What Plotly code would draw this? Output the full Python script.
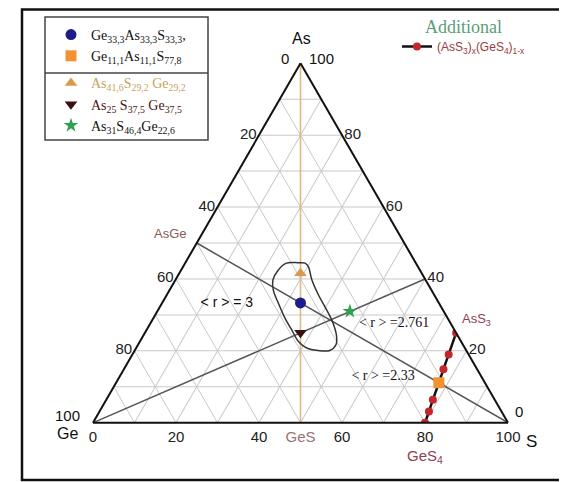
import plotly.graph_objects as go

# ---------------- data (percent) : a = As (top), b = Ge (bottom-left), c = S (bottom-right)
pt_names = [
    "Ge<sub>33,3</sub>As<sub>33,3</sub>S<sub>33,3</sub>,",
    "Ge<sub>11,1</sub>As<sub>11,1</sub>S<sub>77,8</sub>",
    "<span style='color:#c9a15c'>As<sub>41,6</sub>S<sub>29,2</sub> Ge<sub>29,2</sub></span>",
    "<span style='color:#4a1414'>As<sub>25</sub> S<sub>37,5</sub> Ge<sub>37,5</sub></span>",
    "As<sub>31</sub>S<sub>46,4</sub>Ge<sub>22,6</sub>",
]
pt_as = [33.3, 11.1, 41.6, 25.0, 31.0]
pt_ge = [33.3, 11.1, 29.2, 37.5, 22.6]
pt_s = [33.3, 77.8, 29.2, 37.5, 46.4]
pt_symbols = ["circle", "square", "triangle-up", "triangle-down", "star"]
pt_colors = ["#1c1c8c", "#f39231", "#d99a4e", "#3a0f0f", "#2ea04f"]
pt_groups = ["g1", "g1", "g2", "g2", "g2"]

# tie lines
asge_s_as, asge_s_ge, asge_s_s = [50, 0], [50, 0], [0, 100]        # AsGe -> S
ge_as2s3_as, ge_as2s3_ge, ge_as2s3_s = [0, 40], [100, 0], [0, 60]  # Ge -> As2S3
as_ges_as, as_ges_ge, as_ges_s = [100, 0], [0, 50], [0, 50]        # As -> GeS

# hand-drawn region
loop_as = [44.5, 44.4, 42.5, 39.7, 36.9, 33.3, 29.1, 25.8, 22.6, 20.8, 20.1,
           20.1, 21.7, 24.0, 27.7, 31.4, 35.6, 39.7, 43.4, 44.4, 44.5]
loop_ge = [28.3, 31.2, 34.1, 36.8, 38.1, 38.7, 39.2, 39.2, 39.2, 38.1, 35.7,
           32.9, 30.6, 29.3, 28.3, 28.0, 27.9, 27.4, 26.4, 26.7, 28.3]
loop_s = [27.2, 24.4, 23.4, 23.5, 25.0, 28.0, 31.7, 35.0, 38.2, 41.1, 44.2,
          47.0, 47.7, 46.7, 44.0, 40.6, 36.5, 32.9, 30.2, 28.9, 27.2]

# (AsS3)x(GeS4)1-x series
add_as = [0.0, 3.1, 6.4, 11.1, 14.9, 19.0, 25.0]
add_ge = [20.0, 17.5, 14.9, 11.1, 8.1, 4.8, 0.0]
add_s = [80.0, 79.4, 78.7, 77.8, 77.0, 76.2, 75.0]

# <r> labels
r_texts = ["&lt; r &gt; = 3", "&lt; r &gt; =2.761", "&lt; r &gt; =2.33"]
r_as = [33.3, 27.5, 12.8]
r_ge = [51.1, 13.7, 23.7]
r_s = [15.6, 58.8, 63.5]
r_fonts = ["Liberation Sans", "Liberation Serif", "Liberation Serif"]

# ticks (every 10 for the grid, labels every 20)
tick_vals = [0, 10, 20, 30, 40, 50, 60, 70, 80, 90, 100]
a_ticktext = ["", "", "80", "", "60", "", "40", "", "20", "", ""]      # Ge read on left edge
b_ticktext = ["100", "", "80<br><span style='color:#8e4050'>GeS<sub>4</sub></span>", "", "60",
              "<span style='color:#9a7476'>GeS</span>", "40", "", "20", "", "0"]  # S on bottom edge
c_ticktext = ["", "", "80", "", "60", "", "40", "", "20", "", ""]      # As read on right edge

# corner labels (text, screen x, screen y, size)
corner_texts = ["As", "Ge", "S", "0", "100", "100", "0"]
corner_x = [301, 67, 531, 285, 321, 67, 519]
corner_y = [38, 433, 441, 58, 58, 415, 411]
corner_size = [16, 16, 17, 15, 15, 15, 15]

W, H = 559, 474   # page body has an 8px margin
OFF = 8


def px(X):
    return (X - OFF) / W


def py(Y):
    return 1 - (Y - OFF) / H


fig = go.Figure()

line_gray = "#555555"
fig.add_trace(go.Scatterternary(a=as_ges_as, b=as_ges_ge, c=as_ges_s, mode="lines",
                                line=dict(color="#e3b683", width=1.6), showlegend=False, hoverinfo="skip"))
fig.add_trace(go.Scatterternary(a=asge_s_as, b=asge_s_ge, c=asge_s_s, mode="lines",
                                line=dict(color=line_gray, width=1.5), showlegend=False, hoverinfo="skip"))
fig.add_trace(go.Scatterternary(a=ge_as2s3_as, b=ge_as2s3_ge, c=ge_as2s3_s, mode="lines",
                                line=dict(color=line_gray, width=1.5), showlegend=False, hoverinfo="skip"))
fig.add_trace(go.Scatterternary(a=loop_as, b=loop_ge, c=loop_s, mode="lines",
                                line=dict(color="#333333", width=1.5, shape="spline", smoothing=1),
                                showlegend=False, hoverinfo="skip"))

fig.add_trace(go.Scatterternary(a=add_as, b=add_ge, c=add_s, mode="lines+markers",
                                line=dict(color="#111111", width=2.5),
                                marker=dict(color="#c3272b", size=8),
                                name="(AsS<sub>3</sub>)<sub>x</sub>(GeS<sub>4</sub>)<sub>1-x</sub>",
                                legend="legend2"))

for i in range(len(pt_names)):
    fig.add_trace(go.Scatterternary(a=[pt_as[i]], b=[pt_ge[i]], c=[pt_s[i]], mode="markers",
                                    marker=dict(symbol=pt_symbols[i], color=pt_colors[i], size=11),
                                    name=pt_names[i], legendgroup=pt_groups[i], legend="legend"))

for i in range(len(r_texts)):
    fig.add_trace(go.Scatterternary(a=[r_as[i]], b=[r_ge[i]], c=[r_s[i]], mode="text",
                                    text=[r_texts[i]], textposition="middle center",
                                    textfont=dict(family=r_fonts[i], size=14, color="#111111"),
                                    showlegend=False, hoverinfo="skip", cliponaxis=False))

axis_common = dict(
    tickmode="array", tickvals=tick_vals, ticks="", showgrid=True,
    gridcolor="#c9c9c9", gridwidth=1, linecolor="#111111", linewidth=2,
    tickfont=dict(family="Liberation Sans", size=15, color="#222222"), title=dict(text=""),
)

annotations = []
for t, x, y, s in zip(corner_texts, corner_x, corner_y, corner_size):
    annotations.append(dict(text=t, x=px(x), y=py(y), xref="paper", yref="paper", showarrow=False,
                            xanchor="center", yanchor="middle",
                            font=dict(family="Liberation Sans", size=s, color="#111111")))
annotations.append(dict(text="AsGe", x=px(170), y=py(233), xref="paper", yref="paper", showarrow=False,
                        xanchor="center", yanchor="middle",
                        font=dict(family="Liberation Sans", size=13, color="#8a5a5a")))
annotations.append(dict(text="AsS<sub>3</sub>", x=px(476), y=py(319), xref="paper", yref="paper",
                        showarrow=False, xanchor="center", yanchor="middle",
                        font=dict(family="Liberation Sans", size=13, color="#8e4050")))
annotations.append(dict(text="Additional", x=px(463), y=py(27), xref="paper", yref="paper", showarrow=False,
                        xanchor="center", yanchor="middle",
                        font=dict(family="Liberation Serif", size=18, color="#5a9e78")))

fig.update_layout(
    width=W, height=H,
    margin=dict(l=0, r=0, t=0, b=0),
    paper_bgcolor="white",
    ternary=dict(
        sum=100,
        bgcolor="white",
        domain=dict(x=[px(93), px(508)], y=[py(423), py(63)]),
        aaxis=dict(axis_common, ticktext=a_ticktext),
        baxis=dict(axis_common, ticktext=b_ticktext),
        caxis=dict(axis_common, ticktext=c_ticktext),
    ),
    legend=dict(x=px(51), y=py(19), xanchor="left", yanchor="top",
                bgcolor="rgba(0,0,0,0)", borderwidth=0,
                traceorder="grouped", tracegroupgap=6,
                font=dict(family="Liberation Serif", size=14, color="#111111")),
    legend2=dict(x=px(397), y=py(32), xanchor="left", yanchor="top",
                 bgcolor="rgba(0,0,0,0)", borderwidth=0,
                 font=dict(family="Liberation Sans", size=12, color="#9b3b3b")),
    shapes=[
        dict(type="rect", xref="paper", yref="paper", x0=px(22), x1=px(565), y0=py(480), y1=py(9.5),
             line=dict(color="#111111", width=2.5)),
        dict(type="rect", xref="paper", yref="paper", x0=px(45), x1=px(208), y0=py(140), y1=py(17),
             line=dict(color="#444444", width=1.5)),
        dict(type="line", xref="paper", yref="paper", x0=px(45), x1=px(208), y0=py(73), y1=py(73),
             line=dict(color="#444444", width=1.5)),
    ],
    annotations=annotations,
)

fig.write_html("out.html")
